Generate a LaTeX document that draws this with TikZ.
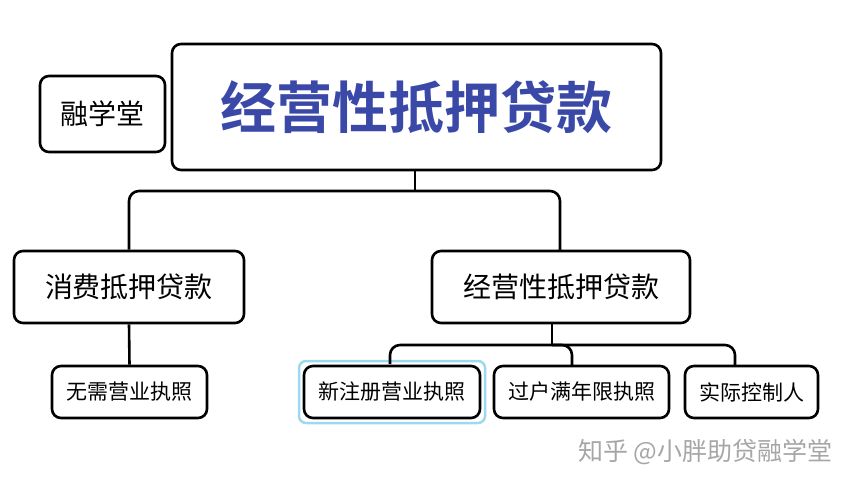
\documentclass[tikz,border=0pt]{standalone}
\usepackage{fontspec}
\newfontfamily\cjk{Noto Sans CJK SC}
\newfontfamily\cjkbold{Noto Sans CJK SC Bold}
\usetikzlibrary{positioning}
\definecolor{titleblue}{HTML}{3A48A8}
\definecolor{glow}{HTML}{9ED8EE}
\tikzset{
  box/.style={draw=black, line width=2.6pt, rounded corners=9pt, fill=white, inner sep=0pt, font=\cjk},
  link/.style={line width=2.6pt, rounded corners=10pt}
}
\begin{document}
\begin{tikzpicture}[x=1pt,y=-1pt]
    \useasboundingbox (0,0) rectangle (857,485);
    % 顶层
    \node[box, minimum width=489pt, minimum height=126pt, font=\cjkbold\fontsize{56}{60}\selectfont, text=titleblue] (title) at (416.5,107) {经营性抵押贷款};
    \node[box, minimum width=125pt, minimum height=76pt, font=\cjk\fontsize{28}{32}\selectfont] (brand) at (102.5,114) {融学堂};
    % 第二层
    \node[box, minimum width=230pt, minimum height=72pt, font=\cjk\fontsize{28}{32}\selectfont] (consume) at (129,287) {消费抵押贷款};
    \node[box, minimum width=258pt, minimum height=72pt, font=\cjk\fontsize{28}{32}\selectfont] (business) at (561,287) {经营性抵押贷款};
    % 第三层
    \node[box, minimum width=155pt, minimum height=52pt, font=\cjk\fontsize{21}{24}\selectfont] (nolicense) at (129.5,392) {无需营业执照};
    \draw[glow, line width=2.5pt, rounded corners=7pt] (299,361) rectangle (485,423);
    \node[box, minimum width=176pt, minimum height=52pt, font=\cjk\fontsize{21}{24}\selectfont] (newreg) at (392,392) {新注册营业执照};
    \node[box, minimum width=175pt, minimum height=52pt, font=\cjk\fontsize{21}{24}\selectfont] (transfer) at (581.5,392) {过户满年限执照};
    \node[box, minimum width=133pt, minimum height=52pt, font=\cjk\fontsize{21}{24}\selectfont] (control) at (751.5,392) {实际控制人};
    % 连线
    \coordinate (j1) at (415,191);
    \draw[link] (title.south -| j1) -- (j1);
    \draw[link] (consume.north) |- (j1) -| (560,251);
    \draw[link] (consume.south) -- (nolicense.north);
    \coordinate (j2) at (552,345);
    \draw[link] (552,323) -- (j2);
    \draw[link] (390,364) |- (j2) -| (735,366);
    \draw[link] (j2) -| (572,366);
    % 水印
    \node[font=\cjk\fontsize{25}{28}\selectfont, text=black!35, anchor=east] (mark) at (836,452) {知乎 @小胖助贷融学堂};
\end{tikzpicture}
\end{document}
